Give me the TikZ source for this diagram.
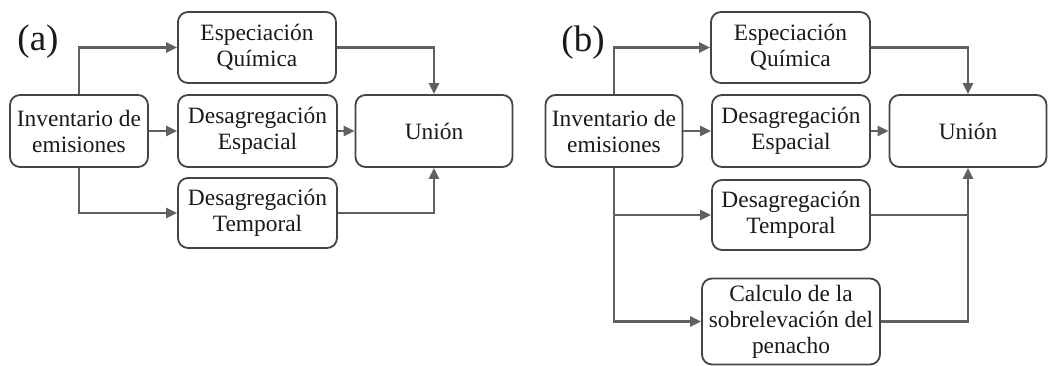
\documentclass[tikz,border=0pt]{standalone}
\usepackage{fontspec}
\setmainfont{Liberation Serif}
\usetikzlibrary{arrows.meta}
\definecolor{linegray}{HTML}{606060}
\definecolor{boxgray}{HTML}{444444}
\definecolor{txt}{HTML}{1A1A1A}
\begin{document}
\begin{tikzpicture}[x=0.5pt,y=-0.5pt,
  stagebox/.style={draw=boxgray, line width=0.9pt, rounded corners=5pt, fill=white,
    text=txt, align=center, font=\fontsize{11.7}{13}\selectfont, inner sep=0pt},
  flow/.style={draw=linegray, line width=1.2pt, -{Triangle[length=5.5pt,width=5pt]}},
  plainflow/.style={draw=linegray, line width=1.2pt},
  panel/.style={text=txt, font=\fontsize{18.5}{20}\selectfont}]
\useasboundingbox (0,0) rectangle (1051,365);

% ---------- (a) ----------
\node[panel] (la) at (38,42) {(a)};
\node[stagebox, minimum width=79pt, minimum height=35.5pt] (aEsp) at (257,47.5) {Especiación\\Química};
\node[stagebox, minimum width=69pt, minimum height=36pt] (aInv) at (79,131) {Inventario de\\emisiones};
\node[stagebox, minimum width=79.5pt, minimum height=36pt] (aSpa) at (257.5,131) {Desagregación\\Espacial};
\node[stagebox, minimum width=78.5pt, minimum height=36pt] (aUni) at (434,131) {Unión};
\node[stagebox, minimum width=79.5pt, minimum height=35pt] (aTem) at (257.5,213) {Desagregación\\Temporal};

\draw[flow] (aInv.north) |- (aEsp.west);
\draw[flow] (aEsp.east) -| (aUni.north);
\draw[flow] (aInv.east) -- (aSpa.west);
\draw[flow] (aSpa.east) -- (aUni.west);
\draw[flow] (aInv.south) |- (aTem.west);
\draw[flow] (aTem.east) -| (aUni.south);

% ---------- (b) ----------
\node[panel] (lb) at (583,43) {(b)};
\node[stagebox, minimum width=79.5pt, minimum height=35.5pt] (bEsp) at (790.5,47.5) {Especiación\\Química};
\node[stagebox, minimum width=68.5pt, minimum height=36pt] (bInv) at (614,131) {Inventario de\\emisiones};
\node[stagebox, minimum width=79pt, minimum height=36pt] (bSpa) at (791,131) {Desagregación\\Espacial};
\node[stagebox, minimum width=78.5pt, minimum height=36pt] (bUni) at (968,131) {Unión};
\node[stagebox, minimum width=79pt, minimum height=35pt] (bTem) at (791,215) {Desagregación\\Temporal};
\node[stagebox, minimum width=89pt, minimum height=43pt] (bCal) at (791,321.5) {Calculo de la\\sobrelevación del\\penacho};

\draw[flow] (bInv.north) |- (bEsp.west);
\draw[flow] (bEsp.east) -| (bUni.north);
\draw[flow] (bInv.east) -- (bSpa.west);
\draw[flow] (bSpa.east) -- (bUni.west);
\draw[flow] (bInv.south) |- (bCal.west);
\draw[flow] (bInv.south |- bTem.west) -- (bTem.west);
\draw[flow] (bCal.east) -| (bUni.south);
\draw[plainflow] (bTem.east) -- (bTem.east -| bUni.south);
\end{tikzpicture}
\end{document}
